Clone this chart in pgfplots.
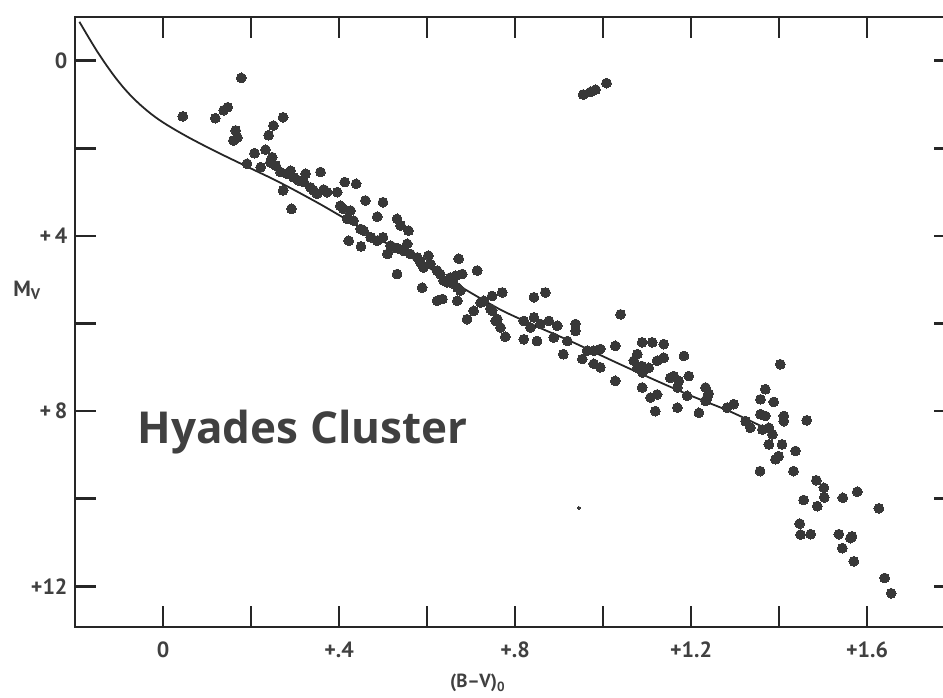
\documentclass[border=0pt]{standalone}
\usepackage{fontspec}
\setmainfont{PT Sans}
\newfontfamily\titlefont{Open Sans}
\usepackage{pgfplots}
\pgfplotsset{compat=1.18}
\definecolor{dotc}{HTML}{383838}
\definecolor{txt}{HTML}{404040}
\begin{document}
\begin{tikzpicture}
\useasboundingbox (-75pt,-71pt) rectangle (868pt,627pt);
\clip (-75pt,-71pt) rectangle (868pt,627pt);
\begin{axis}[
  at={(0pt,0pt)}, anchor=south west,
  scale only axis, width=880pt, height=610pt,
  xmin=-0.2, xmax=1.8, ymin=-1, ymax=12.93, y dir=reverse,
  xtick={0,0.4,0.8,1.2,1.6}, xticklabels={0,+.4,+.8,+1.2,+1.6},
  minor xtick={0.2,0.6,1.0,1.4},
  ytick={0,4,8,12}, yticklabels={0,+\,4,+\,8,+12},
  minor ytick={2,6,10},
  xtick pos=both, ytick pos=both,
  major tick length=21pt, minor tick length=21pt,
  tick align=inside,
  axis line style={line width=2.6pt, black!85},
  tick style={line width=2.6pt, black!85},
  tick label style={font=\bfseries\fontsize{22}{22}\selectfont, text=txt},
  xticklabel style={yshift=-11pt},
  yticklabel style={xshift=-4pt},
  clip=false,
]
% main-sequence (ZAMS) curve
\addplot[black!85, line width=1.8pt, smooth, tension=0.4] coordinates {
(-0.19,-0.89) (-0.17,-0.55) (-0.15,-0.22) (-0.13,0.08) (-0.11,0.36)
(-0.09,0.61) (-0.07,0.83) (-0.05,1.02) (-0.03,1.19) (-0.01,1.34)
(0.01,1.47) (0.03,1.59) (0.06,1.76) (0.10,1.97) (0.14,2.17)
(0.20,2.46) (0.25,2.70) (0.30,2.96) (0.36,3.29) (0.43,3.70)
(0.50,4.12) (0.60,4.70) (0.70,5.30) (0.77,5.70) (0.85,6.07)
(0.93,6.42) (1.03,6.89) (1.12,7.30) (1.20,7.65) (1.28,7.97)
(1.33,8.20) (1.375,8.42)
};
% stars
\addplot[only marks, mark=*, mark size=4.9pt, mark options={fill=dotc, draw=dotc, line width=0pt}] coordinates {
(0.178,0.39) (0.045,1.27) (0.119,1.31) (0.138,1.13) (0.147,1.06)
(0.165,1.59) (0.169,1.75) (0.160,1.82) (0.273,1.29) (0.251,1.48)
(0.240,1.70) (0.208,2.11) (0.233,2.03) (0.191,2.35) (0.273,2.96)
(0.292,3.38)
(0.222,2.43) (0.244,2.32) (0.256,2.39) (0.267,2.54) (0.282,2.58)
(0.297,2.66) (0.324,2.58) (0.320,2.77) (0.335,2.89) (0.358,2.54)
(0.350,3.04) (0.373,3.00) (0.396,3.00) (0.413,2.77) (0.439,2.81)
(0.460,3.19) (0.500,3.23) (0.487,3.56) (0.403,3.31) (0.426,3.42)
(0.419,3.61) (0.449,3.84) (0.422,4.11) (0.450,4.24) (0.472,4.03)
(0.500,4.03) (0.532,3.61) (0.540,3.76) (0.558,3.88) (0.517,4.22)
(0.510,4.41) (0.535,4.29) (0.555,4.18) (0.562,4.41) (0.578,4.49)
(0.603,4.45) (0.592,4.72) (0.623,4.79) (0.638,5.02) (0.532,4.87)
(0.589,5.18) (0.623,5.48) (0.669,5.18) (0.672,4.52) (0.669,5.48)
(0.248,2.20) (0.290,2.51) (0.308,2.73) (0.342,2.96) (0.365,2.94)
(0.410,3.38) (0.433,3.65) (0.456,3.88) (0.487,4.11) (0.524,4.26)
(0.547,4.34) (0.585,4.60) (0.608,4.64) (0.630,4.87) (0.653,4.95)
(0.660,5.09)
(0.714,4.79) (0.680,4.87) (0.691,5.90) (0.706,5.71) (0.722,5.52)
(0.748,5.37) (0.771,5.29) (0.748,5.71) (0.760,5.90) (0.778,6.30)
(0.767,6.09) (0.843,5.40) (0.869,5.29) (0.820,5.94) (0.843,5.86)
(0.858,6.01) (0.835,6.09) (0.877,5.94) (0.896,6.05) (0.820,6.36)
(0.850,6.40) (0.888,6.32) (0.9375,6.01) (0.9375,6.17) (0.919,6.40)
(0.910,6.70) (0.953,6.81) (0.979,6.62) (0.994,6.58) (0.979,6.92)
(0.994,7.00) (1.028,6.51) (1.028,7.31) (1.040,5.79) (1.070,6.85)
(1.078,7.01) (1.078,6.70) (1.089,7.46)
(0.646,5.06) (0.665,4.91) (0.676,5.25) (0.635,5.44) (0.729,5.48)
(0.744,5.66) (0.756,5.94) (0.964,6.62)
(1.088,6.97) (1.090,7.12) (1.089,6.43) (1.112,6.43) (1.138,6.47)
(1.104,7.01) (1.123,6.85) (1.138,6.78) (1.184,6.74) (1.161,7.20)
(1.153,7.24) (1.172,7.31) (1.169,7.46) (1.195,7.20) (1.108,7.69)
(1.123,7.62) (1.119,8.00) (1.169,7.92) (1.191,7.65) (1.218,8.04)
(1.237,7.69) (1.233,7.46)
(1.240,7.60) (1.233,7.77) (1.282,7.92) (1.297,7.84) (1.324,8.23)
(1.335,8.38) (1.403,6.93) (1.369,7.50) (1.358,7.73) (1.388,7.79)
(1.358,8.07) (1.369,8.11) (1.411,8.11) (1.411,8.23) (1.463,8.21)
(1.362,8.42) (1.377,8.38) (1.385,8.53) (1.377,8.76) (1.407,8.76)
(1.4375,8.91) (1.392,9.10) (1.399,9.03) (1.357,9.37) (1.433,9.37)
(1.485,9.58) (1.502,9.75) (1.503,9.97) (1.487,10.17) (1.456,10.03)
(1.545,9.98) (1.578,9.84) (1.627,10.22) (1.447,10.57) (1.449,10.82)
(1.472,10.81) (1.536,10.81) (1.5625,10.90) (1.566,10.86) (1.544,11.13)
(1.570,11.43) (1.640,11.81) (1.655,12.16)
(0.955,0.77) (0.972,0.71) (0.983,0.66) (1.008,0.51)
};
\addplot[only marks, mark=*, mark size=1.6pt, mark options={fill=dotc, draw=dotc, line width=0pt}] coordinates {(0.945,10.21)};
\node[anchor=base west, inner sep=0pt, text=txt, font=\titlefont\bfseries\fontsize{44}{44}\selectfont] at (axis cs:-0.058,8.73) {Hyades Cluster};
\node[text=txt, font=\bfseries\fontsize{22}{22}\selectfont] at ([xshift=-48pt]axis cs:-0.2,5.24) {M\textsubscript{V}};
\node[text=txt, font=\bfseries\fontsize{19}{19}\selectfont] at ([yshift=-56pt]axis cs:0.715,12.93) {(B–V)\textsubscript{0}};
\end{axis}
\end{tikzpicture}
\end{document}
